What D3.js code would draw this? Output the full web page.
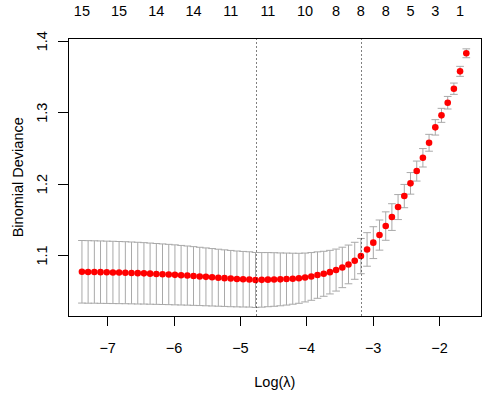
<!DOCTYPE html>
<html>
<head>
<meta charset="utf-8">
<script src="https://cdn.jsdelivr.net/npm/d3@7"></script>
<style>
  html, body { margin: 0; padding: 0; background: #fff; }
  svg { display: block; font-family: "Liberation Sans", Arial, sans-serif; }
  .axis text { font-size: 14.5px; fill: #000; }
</style>
</head>
<body>
<svg id="cvPlot" width="484" height="394"></svg>
<script>
// log(lambda) values, one per fitted lambda
const logLambda = [
  -7.380, -7.287, -7.193, -7.100, -7.006, -6.913, -6.820, -6.726, -6.633, -6.539,
  -6.446, -6.353, -6.259, -6.166, -6.072, -5.979, -5.886, -5.792, -5.699, -5.605,
  -5.512, -5.419, -5.325, -5.232, -5.138, -5.045, -4.952, -4.858, -4.765, -4.671,
  -4.578, -4.485, -4.391, -4.298, -4.204, -4.111, -4.018, -3.924, -3.831, -3.737,
  -3.644, -3.551, -3.457, -3.364, -3.270, -3.177, -3.084, -2.990, -2.897, -2.803,
  -2.710, -2.617, -2.523, -2.430, -2.336, -2.243, -2.150, -2.056, -1.963, -1.869,
  -1.776, -1.683, -1.589
];

// mean cross-validated binomial deviance
const cvm = [
  1.0765, 1.0763, 1.0762, 1.0760, 1.0758, 1.0756, 1.0754, 1.0752, 1.0749, 1.0746,
  1.0743, 1.0739, 1.0735, 1.0731, 1.0727, 1.0722, 1.0717, 1.0712, 1.0706, 1.0700,
  1.0694, 1.0688, 1.0682, 1.0676, 1.0670, 1.0665, 1.0661, 1.0658, 1.0650, 1.0652,
  1.0655, 1.0657, 1.0659, 1.0663, 1.0668, 1.0674, 1.0685, 1.0700, 1.0719, 1.0737,
  1.0760, 1.0789, 1.0826, 1.0868, 1.0919, 1.0985, 1.1078, 1.1173, 1.1279, 1.1405,
  1.1531, 1.1671, 1.1825, 1.2003, 1.2175, 1.2361, 1.2571, 1.2787, 1.2955, 1.3132,
  1.3328, 1.3571, 1.3824
];

// standard error of the deviance
const cvsd = [
  0.0438, 0.0438, 0.0437, 0.0437, 0.0436, 0.0436, 0.0435, 0.0434, 0.0433, 0.0432,
  0.0430, 0.0428, 0.0426, 0.0424, 0.0422, 0.0420, 0.0417, 0.0414, 0.0411, 0.0408,
  0.0405, 0.0402, 0.0399, 0.0396, 0.0394, 0.0391, 0.0389, 0.0387, 0.0385, 0.0382,
  0.0379, 0.0375, 0.0370, 0.0364, 0.0357, 0.0350, 0.0342, 0.0334, 0.0325, 0.0315,
  0.0305, 0.0294, 0.0283, 0.0271, 0.0259, 0.0247, 0.0235, 0.0223, 0.0211, 0.0199,
  0.0187, 0.0175, 0.0163, 0.0151, 0.0140, 0.0129, 0.0118, 0.0108, 0.0098, 0.0088,
  0.0079, 0.0070, 0.0062
];

// number of non-zero coefficients shown on the top axis (and which lambda they belong to)
const nzLabels = ["15", "15", "14", "14", "11", "11", "10", "8", "8", "8", "5", "3", "1"];
const nzIndex  = [0, 6, 12, 18, 24, 30, 36, 41, 45, 49, 53, 57, 61];

// lambda.min and lambda.1se
const minIndex = 28;
const oneSeIndex = 45;

const xTicks = [-7, -6, -5, -4, -3, -2];
const yTicks = [1.1, 1.2, 1.3, 1.4];
const xDomain = [-7.59, -1.357];
const yDomain = [1.0146, 1.4031];

// Size settings
const svg = d3.select("#cvPlot");
const width = 484, height = 394;
const margin = {top: 38.5, right: 2.3, bottom: 78, left: 68};
const plotW = width - margin.left - margin.right;
const plotH = height - margin.top - margin.bottom;

const x = d3.scaleLinear().domain(xDomain).range([0, plotW]);
const y = d3.scaleLinear().domain(yDomain).range([plotH, 0]);

const g = svg.append("g")
    .attr("transform", `translate(${margin.left},${margin.top})`);

const data = logLambda.map((l, i) => ({l: l, m: cvm[i], sd: cvsd[i]}));

// Error bars
const capHalf = 0.01 * (logLambda[logLambda.length - 1] - logLambda[0]);
const bars = g.append("g")
    .attr("stroke", "#a9a9a9")
    .attr("stroke-width", 1)
    .attr("fill", "none");

bars.selectAll(".stem")
    .data(data)
    .enter().append("line")
    .attr("x1", d => x(d.l)).attr("x2", d => x(d.l))
    .attr("y1", d => y(d.m + d.sd)).attr("y2", d => y(d.m - d.sd));

bars.selectAll(".capUp")
    .data(data)
    .enter().append("line")
    .attr("x1", d => x(d.l - capHalf)).attr("x2", d => x(d.l + capHalf))
    .attr("y1", d => y(d.m + d.sd)).attr("y2", d => y(d.m + d.sd));

bars.selectAll(".capLo")
    .data(data)
    .enter().append("line")
    .attr("x1", d => x(d.l - capHalf)).attr("x2", d => x(d.l + capHalf))
    .attr("y1", d => y(d.m - d.sd)).attr("y2", d => y(d.m - d.sd));

// Points
g.selectAll(".pt")
    .data(data)
    .enter().append("circle")
    .attr("class", "pt")
    .attr("cx", d => x(d.l))
    .attr("cy", d => y(d.m))
    .attr("r", 3.3)
    .attr("fill", "#ff0000");

// lambda.min / lambda.1se dotted lines
g.selectAll(".vline")
    .data([logLambda[minIndex], logLambda[oneSeIndex]])
    .enter().append("line")
    .attr("x1", d => Math.round(x(d)) + 0.5).attr("x2", d => Math.round(x(d)) + 0.5)
    .attr("y1", 0).attr("y2", plotH)
    .attr("stroke", "#000")
    .attr("stroke-width", 1)
    .attr("stroke-dasharray", "1,3");

// Box
g.append("rect")
    .attr("x", 0.5).attr("y", 0)
    .attr("width", plotW - 1).attr("height", plotH)
    .attr("fill", "none")
    .attr("stroke", "#000")
    .attr("stroke-width", 1)
    .attr("shape-rendering", "crispEdges");

// Bottom axis
const xAxis = g.append("g")
    .attr("class", "axis")
    .attr("transform", `translate(0,${plotH})`)
    .call(d3.axisBottom(x).tickValues(xTicks).tickSize(10).tickPadding(0).tickFormat(d3.format("d")));
xAxis.select(".domain").remove();
xAxis.selectAll("line").attr("shape-rendering", "crispEdges");
xAxis.selectAll("text")
    .attr("y", 37.3)
    .attr("dy", 0);

// Left axis
const yAxis = g.append("g")
    .attr("class", "axis")
    .call(d3.axisLeft(y).tickValues(yTicks).tickSize(10).tickFormat(d3.format(".1f")));
yAxis.select(".domain").remove();
yAxis.selectAll("line").attr("shape-rendering", "crispEdges");
yAxis.selectAll("text")
    .attr("x", null).attr("dy", null)
    .attr("text-anchor", "middle")
    .attr("transform", "translate(-21.5,0) rotate(-90)");

// Top axis labels (non-zero counts)
g.append("g")
    .attr("class", "axis")
    .selectAll("text")
    .data(nzLabels)
    .enter().append("text")
    .attr("x", (d, i) => x(logLambda[nzIndex[i]]))
    .attr("y", 16 - margin.top)
    .attr("text-anchor", "middle")
    .text(d => d);

// Axis titles
svg.append("text")
    .attr("x", margin.left + plotW / 2)
    .attr("y", 386.5)
    .attr("text-anchor", "middle")
    .style("font-size", "14.5px")
    .text("Log(λ)");

svg.append("text")
    .attr("transform", `translate(23,${margin.top + plotH / 2}) rotate(-90)`)
    .attr("text-anchor", "middle")
    .style("font-size", "14.5px")
    .text("Binomial Deviance");
</script>
</body>
</html>
